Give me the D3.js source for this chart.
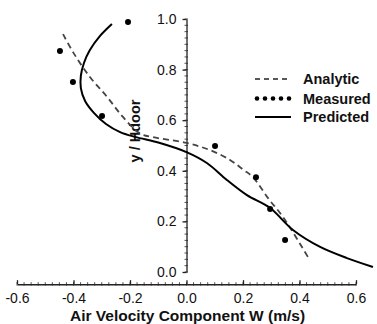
<!DOCTYPE html>
<html><head><meta charset="utf-8">
<script src="https://cdn.jsdelivr.net/npm/d3@7"></script>
<style>
html,body{margin:0;padding:0;background:#fff;}
svg{display:block;font-family:"Liberation Sans",Arial,sans-serif;}
</style></head>
<body><svg id="c" width="377" height="324"></svg>
<script>
// ---- data ----
const xTickValues = [-0.6, -0.4, -0.2, 0.0, 0.2, 0.4, 0.6];
const xTickLabels = ["-0.6", "-0.4", "-0.2", "0.0", "0.2", "0.4", "0.6"];
const yTickValues = [0.0, 0.2, 0.4, 0.6, 0.8, 1.0];
const yTickLabels = ["0.0", "0.2", "0.4", "0.6", "0.8", "1.0"];

const seriesNames = ["Analytic", "Measured", "Predicted"];

const analyticW = [-0.437, -0.40, -0.342, -0.281, -0.225, -0.165, -0.119, 0.0, 0.083, 0.154, 0.20, 0.235, 0.29, 0.342, 0.43];
const analyticY = [0.94, 0.866, 0.771, 0.692, 0.613, 0.548, 0.533, 0.51, 0.482, 0.443, 0.405, 0.375, 0.29, 0.217, 0.059];

const measuredW = [-0.207, -0.448, -0.402, -0.299, 0.101, 0.246, 0.296, 0.349];
const measuredY = [0.988, 0.874, 0.751, 0.617, 0.498, 0.375, 0.249, 0.126];

const predictedW = [-0.264, -0.306, -0.342, -0.363, -0.374, -0.374, -0.359, -0.327, -0.285, -0.235, -0.182, -0.094, 0.0, 0.072, 0.143, 0.214, 0.296, 0.377, 0.473, 0.568, 0.66];
const predictedY = [0.980, 0.933, 0.877, 0.826, 0.775, 0.727, 0.676, 0.628, 0.585, 0.553, 0.534, 0.51, 0.474, 0.431, 0.364, 0.304, 0.253, 0.166, 0.099, 0.055, 0.02];

// ---- drawing ----
const svg = d3.select("#c");
const x = d3.scaleLinear().domain([-0.6, 0.6]).range([17, 356]);
const y = d3.scaleLinear().domain([0, 1]).range([272, 19]);
const xAxisY = y(-0.048);

// minor ticks y
const yMinor = d3.range(0, 1.0001, 0.025);
svg.append("g").selectAll("line").data(yMinor).join("line")
  .attr("x1", x(0) - 2).attr("x2", x(0) + 1.5)
  .attr("y1", d => y(d)).attr("y2", d => y(d))
  .attr("stroke", "#555").attr("stroke-width", 1);

// y axis
const yAxis = d3.axisLeft(y).tickValues(yTickValues)
  .tickFormat((d, i) => yTickLabels[i]).tickSizeInner(4).tickSizeOuter(0).tickPadding(6);
const gy = svg.append("g").attr("transform", `translate(${x(0)},0)`).call(yAxis);
gy.select(".domain").attr("stroke", "#222").attr("stroke-width", 1.3);
gy.selectAll(".tick line").attr("stroke", "#222").attr("stroke-width", 1.3);
gy.selectAll("text").attr("font-size", 14).attr("fill", "#111")
  .attr("font-family", "Liberation Sans, Arial, sans-serif");

// minor ticks x
const xMinor = d3.range(-0.6, 0.6001, 0.025);
svg.append("g").selectAll("line").data(xMinor).join("line")
  .attr("x1", d => x(d)).attr("x2", d => x(d))
  .attr("y1", xAxisY - 2).attr("y2", xAxisY + 1.5)
  .attr("stroke", "#555").attr("stroke-width", 1);

// x axis
const xAxis = d3.axisBottom(x).tickValues(xTickValues)
  .tickFormat((d, i) => xTickLabels[i]).tickSizeInner(-4).tickSizeOuter(0);
const gx = svg.append("g").attr("transform", `translate(0,${xAxisY})`).call(xAxis);
gx.select(".domain").attr("stroke", "#222").attr("stroke-width", 1.5);
gx.selectAll(".tick line").attr("stroke", "#222").attr("stroke-width", 1.3);
gx.selectAll("text").attr("font-size", 14).attr("fill", "#111")
  .attr("font-family", "Liberation Sans, Arial, sans-serif")
  .attr("y", 19).attr("dy", 0);

// axis titles
svg.append("text").attr("x", 187.5).attr("y", 321).attr("text-anchor", "middle")
  .attr("font-size", 15.5).attr("font-weight", "bold").attr("fill", "#111")
  .text("Air Velocity Component W (m/s)");
svg.append("text").attr("transform", "translate(140,131) rotate(-90)")
  .attr("text-anchor", "middle").attr("font-size", 14.5).attr("font-weight", "bold").attr("fill", "#111")
  .text("y / Hdoor");

// lines
const line = d3.line().x(d => x(d[0])).y(d => y(d[1])).curve(d3.curveCatmullRom.alpha(0.5));
const analytic = analyticW.map((w, i) => [w, analyticY[i]]);
const predicted = predictedW.map((w, i) => [w, predictedY[i]]);
const measured = measuredW.map((w, i) => [w, measuredY[i]]);

svg.append("path").datum(analytic).attr("d", line)
  .attr("fill", "none").attr("stroke", "#444").attr("stroke-width", 1.8)
  .attr("stroke-dasharray", "6,4");
svg.append("path").datum(predicted).attr("d", line)
  .attr("fill", "none").attr("stroke", "#000").attr("stroke-width", 2);
svg.append("g").selectAll("circle").data(measured).join("circle")
  .attr("cx", d => x(d[0])).attr("cy", d => y(d[1])).attr("r", 3).attr("fill", "#000");

// legend
const legY = [79, 98.5, 117];
const leg = svg.append("g");
seriesNames.forEach((name, i) => {
  const ly = legY[i];
  if (i === 0) {
    leg.append("line").attr("x1", 255).attr("x2", 291).attr("y1", ly).attr("y2", ly)
      .attr("stroke", "#222").attr("stroke-width", 1.6).attr("stroke-dasharray", "5,4");
  } else if (i === 1) {
    leg.selectAll(null).data(d3.range(5)).join("circle")
      .attr("cx", k => 257 + k * 8).attr("cy", ly).attr("r", 2.3).attr("fill", "#000");
  } else {
    leg.append("line").attr("x1", 255).attr("x2", 291).attr("y1", ly).attr("y2", ly)
      .attr("stroke", "#000").attr("stroke-width", 1.8);
  }
  leg.append("text").attr("x", 303).attr("y", ly + 5).attr("font-size", 14.5)
    .attr("font-weight", "bold").attr("fill", "#111").text(name);
});
</script></body></html>
